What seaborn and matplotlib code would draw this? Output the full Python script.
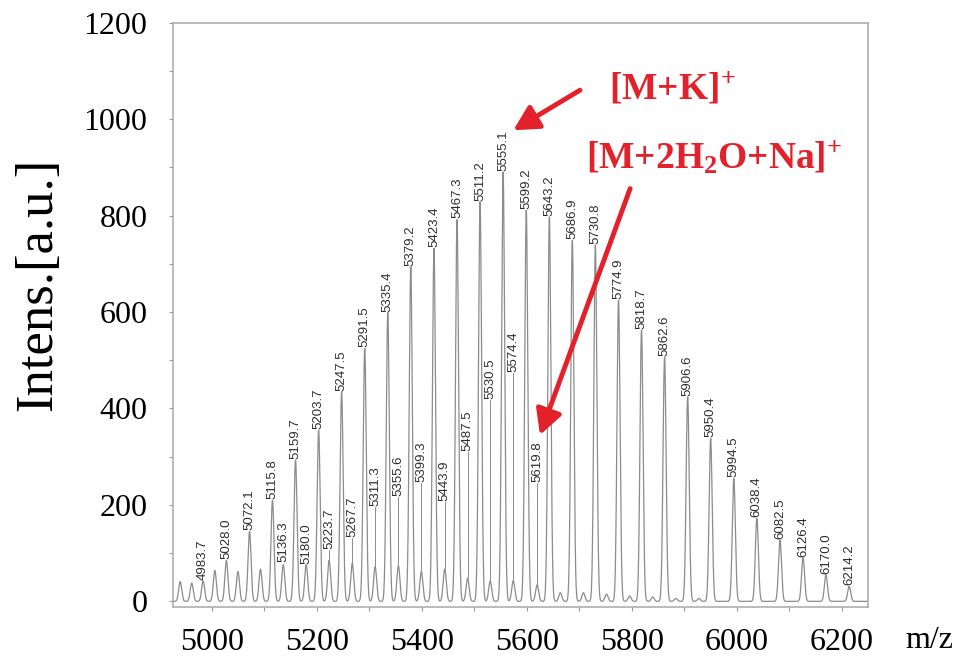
import numpy as np
import pandas as pd
import seaborn as sns
import matplotlib.pyplot as plt
from matplotlib.ticker import MultipleLocator

# Peaks #########################################################################

# main series (labelled, label sits on the peak)
main_mz = [4983.7, 5028.0, 5072.1, 5115.8, 5159.7, 5203.7, 5247.5, 5291.5,
           5335.4, 5379.2, 5423.4, 5467.3, 5511.2, 5555.1, 5599.2, 5643.2,
           5686.9, 5730.8, 5774.9, 5818.7, 5862.6, 5906.6, 5950.4, 5994.5,
           6038.4, 6082.5, 6126.4, 6170.0, 6214.2]
main_int = [42, 85, 145, 210, 293, 355, 435, 525,
            599, 694, 732, 792, 829, 891, 811, 797,
            749, 739, 625, 563, 507, 424, 338, 255,
            172, 127, 90, 55, 31]

# side series (labelled, label lifted with a leader line)
side_mz = [5136.3, 5180.0, 5223.7, 5267.7, 5311.3, 5355.6, 5399.3, 5443.9,
           5487.5, 5530.5, 5574.4, 5619.8]
side_int = [76, 76, 85, 79, 72, 74, 62, 67, 48, 42, 43, 34]
side_label_at = [79, 76, 107, 131, 195, 217, 245, 207, 310, 418, 473, 245]

# small peaks without labels
small_mz = [4940, 4962, 5006, 5050, 5093, 5664, 5708, 5752, 5796, 5840, 5884, 5928]
small_int = [41, 38, 64, 62, 67, 18, 18, 15, 11, 9, 6, 6]

# Profile spectrum from the peak list ###########################################

peak_mz = np.r_[main_mz, side_mz, small_mz]
peak_int = np.r_[main_int, side_int, small_int]
sigma = 2.9

mz = np.arange(4926.0, 6250.0, 0.2)
intens = (peak_int[:, None] *
          np.exp(-0.5 * ((mz[None, :] - peak_mz[:, None]) / sigma) ** 2)).sum(axis=0)
spec = pd.DataFrame({'mz': mz, 'intens': intens})

# Plot ##########################################################################

sns.set_style('white')
plt.rcParams['font.family'] = ['Liberation Serif', 'DejaVu Serif']
plt.rcParams['text.color'] = 'black'
plt.rcParams['mathtext.fontset'] = 'custom'
plt.rcParams['mathtext.rm'] = 'Liberation Serif'
plt.rcParams['mathtext.bf'] = 'Liberation Serif:bold'

gray = '#8c8c8c'
red = '#e3212b'

fig = plt.figure(figsize=(9.67, 6.56), dpi=100)
ax = fig.add_axes([0.1789, 0.0752, 0.7184, 0.8902])

sns.lineplot(data=spec, x='mz', y='intens', ax=ax, color=gray, lw=0.9,
             estimator=None, sort=False)

lab = dict(family='Liberation Sans', size=9.5, color='#2e2e2e',
           rotation=90, ha='center', va='bottom')
for m, h in zip(main_mz, main_int):
    ax.text(m, h + 2, f'{m:.1f}', **lab)
for m, h, t in zip(side_mz, side_int, side_label_at):
    if t - h > 5:
        ax.plot([m, m], [h, t], color=gray, lw=0.7)
    ax.text(m, t + 2, f'{m:.1f}', **lab)

ax.set_xlim(4926.3, 6249.5)
ax.set_ylim(-11, 1200)
ax.xaxis.set_major_locator(MultipleLocator(200))
ax.xaxis.set_minor_locator(MultipleLocator(100))
ax.yaxis.set_major_locator(MultipleLocator(200))
ax.yaxis.set_minor_locator(MultipleLocator(100))
ax.tick_params(which='both', bottom=True, left=True, direction='out',
               length=3, width=0.8, color='#9a9a9a')
ax.tick_params(which='major', labelsize=23, labelcolor='black')
ax.tick_params(axis='x', which='major', pad=12)
ax.tick_params(axis='y', which='major', pad=15.5)
for s in ax.spines.values():
    s.set_color('#a8a8a8')
    s.set_linewidth(1.1)
ax.set_xlabel('')
ax.set_ylabel('')

# adduct annotations
arrow = dict(arrowstyle='-|>,head_length=0.75,head_width=0.4', color=red,
             lw=3.5, shrinkA=0, shrinkB=0, mutation_scale=20)
ax.annotate('', xy=(5574.5, 977), xytext=(5701.5, 1060), arrowprops=arrow)
ax.annotate('', xy=(5625.3, 345), xytext=(5797, 856), arrowprops=arrow)
ax.text(5756, 1043, r'$\mathbf{[M{+}K]^{+}}$', color=red, fontsize=27,
        ha='left', va='baseline')
ax.text(5713, 898, r'$\mathbf{[M{+}2H_{2}O{+}Na]^{+}}$', color=red,
        fontsize=27, ha='left', va='baseline')

fig.text(38 / 967, 1 - 284 / 656, 'Intens.[a.u.]', rotation=90,
         ha='center', va='center', fontsize=38, color='black')
fig.text(905 / 967, 1 - 648 / 656, 'm/z', fontsize=23, color='black',
         ha='left', va='baseline')

fig.savefig('out.png', dpi=100)
